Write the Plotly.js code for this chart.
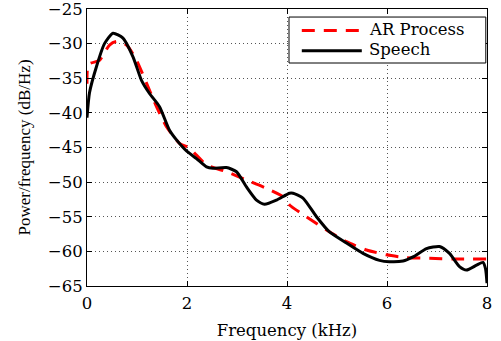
<!DOCTYPE html>
<html>
<head>
<meta charset="utf-8">
<script src="https://cdn.plot.ly/plotly-3.0.1.min.js"></script>
<style>html,body{margin:0;padding:0;background:#fff;}</style>
</head>
<body>
<div id="chart" style="width:501px;height:341px;"></div>
<script>
// Speech PSD (black solid)
const speechFreq = [0, 0.05, 0.19, 0.35, 0.52, 0.72, 0.92, 1.09, 1.25, 1.45, 1.65, 1.79, 1.99, 2.19, 2.39, 2.52, 2.79, 2.99, 3.19, 3.39, 3.55, 3.79, 4.05, 4.12, 4.32, 4.59, 4.85, 5.19, 5.52, 5.85, 6.05, 6.32, 6.52, 6.79, 7.05, 7.25, 7.45, 7.59, 7.79, 7.92, 7.97, 8.0];
const speechPow  = [-40.7, -37.1, -33.3, -30.0, -28.5, -29.2, -31.9, -35.3, -37.2, -39.1, -42.5, -43.9, -45.5, -46.6, -47.8, -48.0, -47.9, -48.5, -50.7, -52.6, -53.2, -52.6, -51.6, -51.6, -52.3, -55.0, -57.2, -58.8, -60.3, -61.3, -61.5, -61.4, -60.8, -59.6, -59.3, -60.3, -62.2, -62.7, -62.0, -61.6, -62.5, -64.6];
// AR process PSD (red dashed)
const arFreq = [0, 0.03, 0.25, 0.45, 0.59, 0.79, 0.99, 1.19, 1.39, 1.59, 1.85, 2.05, 2.39, 2.79, 3.19, 3.59, 3.92, 4.05, 4.39, 4.79, 5.19, 5.59, 5.99, 6.39, 6.85, 7.32, 8.0];
const arPow  = [-35.8, -33.0, -32.4, -30.2, -29.7, -30.2, -32.4, -35.7, -39.1, -42.0, -44.4, -45.1, -47.5, -48.5, -49.7, -50.9, -52.1, -53.3, -55.0, -56.9, -58.6, -59.8, -60.5, -60.9, -61.0, -61.1, -61.1];
const xTicks = [0, 2, 4, 6, 8];
const yTicks = [-65, -60, -55, -50, -45, -40, -35, -30, -25];
const seriesNames = ['AR Process', 'Speech'];
const seriesColors = ['#ff0000', '#000000'];
const seriesDash = ['13px,9px', 'solid'];

const wideSerif = 'DejaVu Serif, serif';
const timesSerif = 'Liberation Serif, Times New Roman, serif';
const tickFont = {family: wideSerif, size: 16.5, color: '#000'};

const traces = [
  {x: arFreq, y: arPow, name: seriesNames[0], mode: 'lines', showlegend: false,
   line: {color: seriesColors[0], width: 3, dash: seriesDash[0], shape: 'spline', smoothing: 0.6}},
  {x: speechFreq, y: speechPow, name: seriesNames[1], mode: 'lines', showlegend: false,
   line: {color: seriesColors[1], width: 3, shape: 'spline', smoothing: 0.6}}
];

const axisCommon = {
  showline: true, linecolor: '#000', linewidth: 1, mirror: 'ticks',
  ticks: 'inside', ticklen: 5, tickcolor: '#000', tickwidth: 1,
  showgrid: true, gridcolor: '#555', gridwidth: 1, griddash: '1px,3px',
  zeroline: false, tickfont: tickFont, ticklabeloverflow: 'allow', automargin: false
};

// Manual legend box (paper coordinates)
const legBox = {x0: 0.505, x1: 0.997, y0: 0.805, y1: 0.971};
const legRows = [0.922, 0.849];
const shapes = [
  {type: 'rect', xref: 'paper', yref: 'paper', x0: legBox.x0, x1: legBox.x1, y0: legBox.y0, y1: legBox.y1,
   line: {color: '#000', width: 1}, fillcolor: '#fff', layer: 'above'}
];
const annotations = [];
seriesNames.forEach((n, i) => {
  shapes.push({type: 'line', xref: 'paper', yref: 'paper', x0: 0.537, x1: 0.687, y0: legRows[i], y1: legRows[i],
    line: {color: seriesColors[i], width: 3, dash: seriesDash[i]}, layer: 'above'});
  annotations.push({xref: 'paper', yref: 'paper', x: 0.7, y: legRows[i] + 0.004, xanchor: 'left', yanchor: 'middle',
    text: n, showarrow: false, font: {family: wideSerif, size: 16.5, color: '#000'}});
});

const layout = {
  width: 501, height: 341,
  margin: {l: 87, r: 14, t: 9, b: 55},
  paper_bgcolor: '#fff', plot_bgcolor: '#fff',
  font: tickFont,
  showlegend: false,
  shapes: shapes,
  annotations: annotations,
  xaxis: Object.assign({}, axisCommon, {
    range: [0, 8], tickvals: xTicks, ticktext: xTicks.map(String), ticklabelstandoff: 2,
    title: {text: 'Frequency (kHz)', font: {family: wideSerif, size: 16.5, color: '#000'}, standoff: 12}
  }),
  yaxis: Object.assign({}, axisCommon, {
    range: [-65, -25], tickvals: yTicks, ticktext: yTicks.map(v => v < 0 ? '\u2212' + Math.abs(v) : String(v)),
    title: {text: 'Power/frequency (dB/Hz)', font: {family: timesSerif, size: 17, color: '#000'}, standoff: 12}
  })
};

Plotly.newPlot('chart', traces, layout, {displayModeBar: false, staticPlot: true});
</script>
</body>
</html>
